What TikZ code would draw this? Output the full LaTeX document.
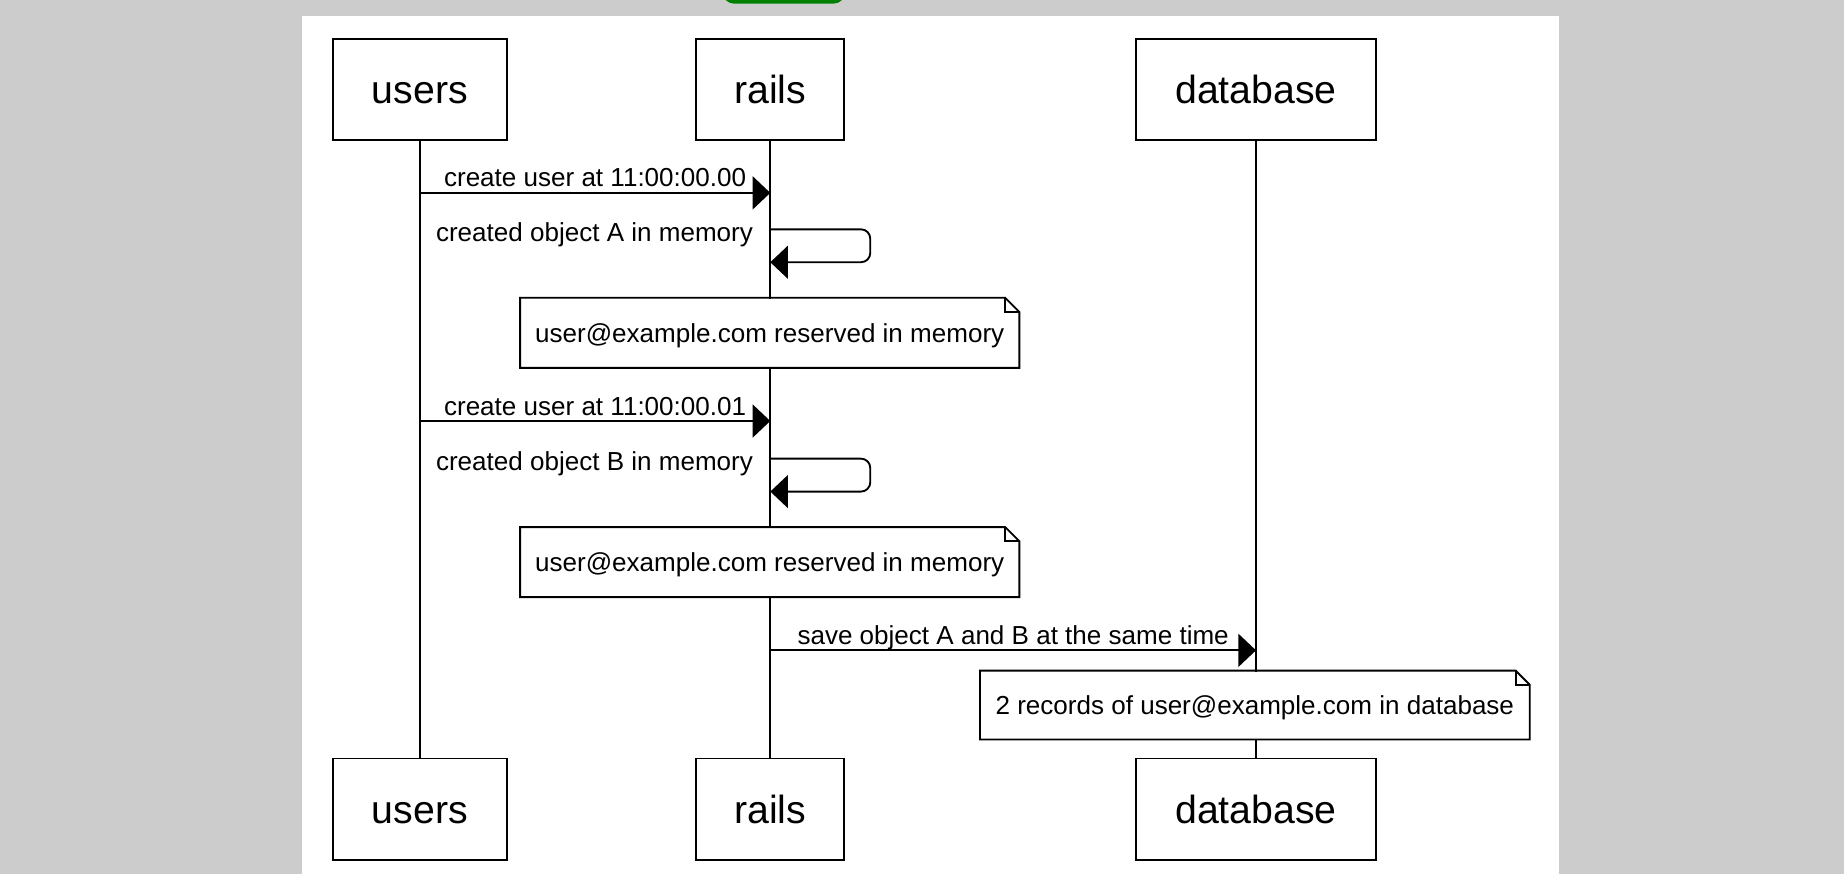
\documentclass[tikz,border=0pt]{standalone}
\usepackage{fontspec}
\setmainfont{Liberation Sans}
\usetikzlibrary{arrows.meta}

\begin{document}
\begin{tikzpicture}[
    x=0.02cm, y=-0.02cm,
    line width=0.9pt,
    actor/.style={rectangle, draw, fill=white, minimum height=1.72cm, inner sep=0pt, text height=13.7pt, text depth=0pt, font=\fontsize{19}{23}\selectfont},
    note/.style={rectangle, fill=white, minimum width=8.46cm, minimum height=1.16cm, inner sep=0pt, text height=9pt, text depth=0pt, font=\fontsize{12.6}{15}\selectfont},
    msg/.style={-{Triangle[length=0.3cm, width=0.56cm]}},
    lbl/.style={font=\fontsize{12.6}{15}\selectfont, inner sep=0pt}
]
\useasboundingbox (0,0) rectangle (1568,743);

% Page
\fill[gray!40] (0,0) rectangle (1568,743);
\fill[white] (257,14) rectangle (1326,743);
\fill[green!50!black, rounded corners=5pt] (615,-20) rectangle (718,3);

% Participants
\node[actor, minimum width=2.96cm] (usersTop) at (357,76) {users};
\node[actor, minimum width=2.52cm] (railsTop) at (655,76) {rails};
\node[actor, minimum width=4.08cm] (dbTop) at (1068,76) {database};
\node[actor, minimum width=2.96cm] (usersBot) at (357,688) {users};
\node[actor, minimum width=2.52cm] (railsBot) at (655,688) {rails};
\node[actor, minimum width=4.08cm] (dbBot) at (1068,688) {database};

% Lifelines
\draw (usersTop.south) -- (usersBot.north);
\draw (railsTop.south) -- (railsBot.north);
\draw (dbTop.south) -- (dbBot.north);

% First request
\coordinate (req1a) at (357,164);
\coordinate (req1b) at (655,164);
\draw[msg] (req1a) -- node[lbl, anchor=base, yshift=0.1cm] {create user at 11:00:00.00} (req1b);

\coordinate (selfAa) at (655,195);
\coordinate (selfAb) at (655,223);
\draw[msg, rounded corners=4.5pt] (selfAa) node[lbl, anchor=base east, xshift=-0.28cm, yshift=-0.2cm] {created object A in memory} -- ++(85,0) -- ++(0,28) -- (selfAb);

\node[note] (note1) at (654.5,283) {user@example.com reserved in memory};

% Second request
\coordinate (req2a) at (357,358);
\coordinate (req2b) at (655,358);
\draw[msg] (req2a) -- node[lbl, anchor=base, yshift=0.1cm] {create user at 11:00:00.01} (req2b);

\coordinate (selfBa) at (655,390);
\coordinate (selfBb) at (655,418);
\draw[msg, rounded corners=4.5pt] (selfBa) node[lbl, anchor=base east, xshift=-0.28cm, yshift=-0.2cm] {created object B in memory} -- ++(85,0) -- ++(0,28) -- (selfBb);

\node[note] (note2) at (654.5,478) {user@example.com reserved in memory};

% Save
\coordinate (saveA) at (655,553);
\coordinate (saveB) at (1068,553);
\draw[msg] (saveA) -- node[lbl, anchor=base, yshift=0.1cm] {save object A and B at the same time} (saveB);

\node[note, minimum width=9.32cm, minimum height=1.14cm] (note3) at (1067,599.5) {2 records of user@example.com in database};

% Note outlines
\foreach \n in {note1,note2,note3}{
  \draw (\n.north west) -- ([xshift=-0.24cm]\n.north east) -- ([yshift=-0.24cm]\n.north east) -- (\n.south east) -- (\n.south west) -- cycle;
  \draw ([xshift=-0.24cm]\n.north east) -- ([xshift=-0.24cm, yshift=-0.24cm]\n.north east) -- ([yshift=-0.24cm]\n.north east);
}

\end{tikzpicture}
\end{document}
